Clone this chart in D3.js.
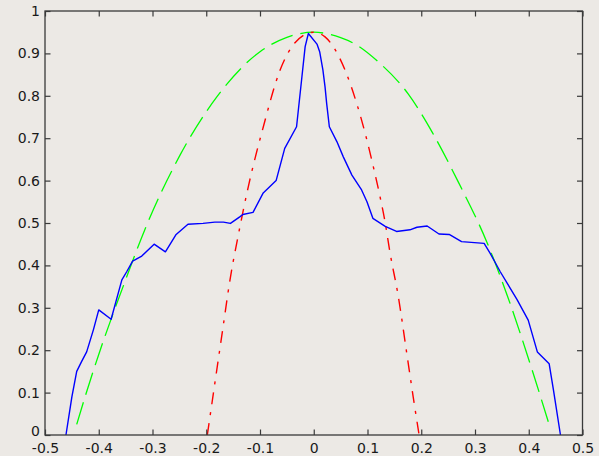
<!DOCTYPE html>
<html>
<head>
<meta charset="utf-8">
<script src="https://cdn.jsdelivr.net/npm/d3@7"></script>
<style>
html,body{margin:0;padding:0;background:#ece9e5;}
svg{display:block;}
</style>
</head>
<body>
<svg id="chart" width="599" height="456"></svg>
<script>
// ---- data ----
const xTicks = [-0.5,-0.4,-0.3,-0.2,-0.1,0,0.1,0.2,0.3,0.4,0.5];
const xTickLabels = ["-0.5","-0.4","-0.3","-0.2","-0.1","0","0.1","0.2","0.3","0.4","0.5"];
const yTicks = [0,0.1,0.2,0.3,0.4,0.5,0.6,0.7,0.8,0.9,1];
const yTickLabels = ["0","0.1","0.2","0.3","0.4","0.5","0.6","0.7","0.8","0.9","1"];

// blue solid series
const blueX = [-0.461,-0.450,-0.441,-0.432,-0.4225,-0.410,-0.400,-0.377,-0.357,-0.348,-0.337,-0.320,-0.297,-0.276,-0.256,-0.234,-0.206,-0.184,-0.168,-0.155,-0.137,-0.132,-0.113,-0.094,-0.070,-0.054,-0.032,-0.027,-0.022,-0.016,-0.010,0.006,0.011,0.017,0.021,0.024,0.029,0.043,0.055,0.071,0.089,0.099,0.110,0.133,0.154,0.179,0.192,0.211,0.233,0.252,0.275,0.317,0.328,0.347,0.378,0.399,0.416,0.438,0.446,0.459];
const blueY = [0,0.090,0.150,0.173,0.196,0.248,0.295,0.273,0.366,0.385,0.410,0.422,0.450,0.432,0.473,0.497,0.499,0.502,0.502,0.499,0.515,0.520,0.525,0.571,0.600,0.676,0.727,0.786,0.845,0.916,0.947,0.922,0.904,0.861,0.821,0.782,0.727,0.692,0.656,0.613,0.578,0.550,0.511,0.492,0.480,0.484,0.490,0.493,0.474,0.473,0.456,0.452,0.429,0.385,0.320,0.271,0.196,0.168,0.106,0];

// green dashed series
const greenX = [-0.441,-0.424,-0.400,-0.3524,-0.310,-0.2488,-0.180,-0.100,-0.050,0,0.050,0.0724,0.120,0.176,0.220,0.270,0.3217,0.362,0.4066,0.4364];
const greenY = [0.025,0.096,0.190,0.358,0.4976,0.660,0.798,0.904,0.938,0.950,0.937,0.925,0.880,0.804,0.715,0.594,0.456,0.322,0.152,0.031];

// red dash-dot series
const redX = [-0.198,-0.1695,-0.1558,-0.1385,-0.1217,-0.0938,-0.0628,-0.0349,0,0.021,0.0581,0.0799,0.0972,0.1108,0.1233,0.1326,0.1419,0.1574,0.173,0.185,0.196];
const redY = [0,0.248,0.366,0.4835,0.586,0.727,0.860,0.925,0.950,0.939,0.861,0.782,0.704,0.633,0.562,0.503,0.430,0.326,0.193,0.090,0];

// ---- drawing ----
const svg = d3.select("#chart");
const mLeft = 45, mRight = 582.5, mTop = 11, mBottom = 435;
const x = d3.scaleLinear().domain([-0.5,0.5]).range([mLeft,mRight]);
const y = d3.scaleLinear().domain([0,1]).range([mBottom,mTop]);

const zip = (xs, ys) => xs.map((v,i)=>[v, ys[i]]);
const lineLin = d3.line().x(d=>x(d[0])).y(d=>y(d[1]));
const lineSmooth = d3.line().x(d=>x(d[0])).y(d=>y(d[1])).curve(d3.curveMonotoneX);

const plot = svg.append("g");
plot.append("path").datum(zip(greenX,greenY)).attr("d",lineSmooth)
  .attr("fill","none").attr("stroke","#00ff00").attr("stroke-width",1.3)
  .attr("stroke-dasharray","23,8");
plot.append("path").datum(zip(redX,redY)).attr("d",lineSmooth)
  .attr("fill","none").attr("stroke","#ff0000").attr("stroke-width",1.4)
  .attr("stroke-dasharray","12,8,3,8");
plot.append("path").datum(zip(blueX,blueY)).attr("d",lineLin)
  .attr("fill","none").attr("stroke","#0000ff").attr("stroke-width",1.4)
  .attr("stroke-linejoin","round");

const axColor = "#3a3a3a";
const font = "'DejaVu Sans', sans-serif";
function styleAxis(g){
  g.select(".domain").remove();
  g.selectAll(".tick line").attr("stroke",axColor).attr("stroke-width",1.2);
  g.selectAll(".tick text").attr("fill","#1a1a1a").style("font-family",font).style("font-size","14px");
}
svg.append("g").attr("transform",`translate(0,${mBottom})`)
  .call(d3.axisBottom(x).tickValues(xTicks).tickFormat((d,i)=>xTickLabels[i]).tickSizeInner(-5.5).tickSizeOuter(0).tickPadding(8))
  .call(styleAxis);
svg.append("g").attr("transform",`translate(0,${mTop})`)
  .call(d3.axisTop(x).tickValues(xTicks).tickFormat("").tickSizeInner(-5.5).tickSizeOuter(0))
  .call(styleAxis);
const yAxisG = svg.append("g").attr("transform",`translate(${mLeft},0)`)
  .call(d3.axisLeft(y).tickValues(yTicks).tickFormat((d,i)=>yTickLabels[i]).tickSizeInner(-5.5).tickSizeOuter(0).tickPadding(5))
  .call(styleAxis);
// the bottom "0" label sits slightly above its tick in the reference
yAxisG.selectAll(".tick text").filter(d=>d===0).attr("y",-4);
svg.append("g").attr("transform",`translate(${mRight},0)`)
  .call(d3.axisRight(y).tickValues(yTicks).tickFormat("").tickSizeInner(-5.5).tickSizeOuter(0))
  .call(styleAxis);

svg.append("rect").attr("x",mLeft).attr("y",mTop).attr("width",mRight-mLeft).attr("height",mBottom-mTop)
  .attr("fill","none").attr("stroke",axColor).attr("stroke-width",1.3);
</script>
</body>
</html>
